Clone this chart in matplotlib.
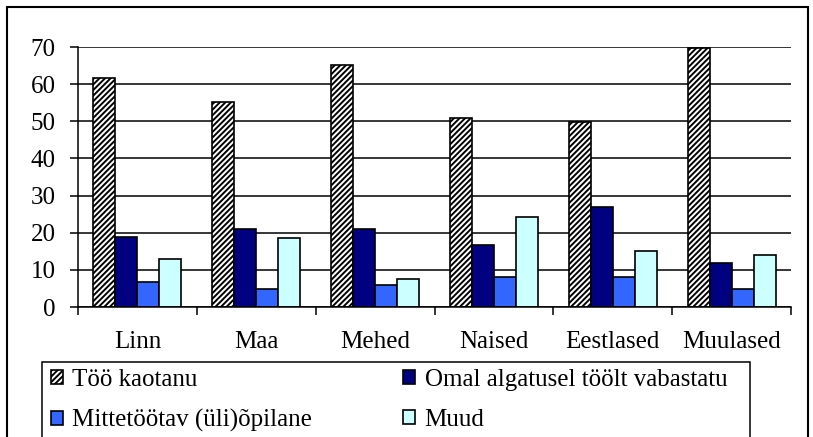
import numpy as np
import matplotlib
matplotlib.use("Agg")
from matplotlib import pyplot as plt
from matplotlib.patches import Rectangle

# andmed
categories = ["Linn", "Maa", "Mehed", "Naised", "Eestlased", "Muulased"]
series_names = ["Töö kaotanu", "Omal algatusel töölt vabastatu",
                "Mittetöötav (üli)õpilane", "Muud"]
too_kaotanu = [61.6, 55.3, 65.2, 50.8, 49.9, 69.6]
omal_algatusel = [18.8, 21.0, 21.0, 16.7, 26.8, 11.8]
mittetootav = [6.7, 4.8, 5.9, 8.0, 8.0, 4.8]
muud = [12.9, 18.6, 7.5, 24.1, 15.1, 13.9]
y_ticks = [0, 10, 20, 30, 40, 50, 60, 70]

plt.rcParams['font.family'] = ['Liberation Serif', 'DejaVu Serif']
plt.rcParams['hatch.linewidth'] = 1.4
plt.rcParams['hatch.color'] = 'black'

fs = 18
fig = plt.figure(figsize=(8.13, 4.37), dpi=100)
ax = fig.add_axes([78 / 813, 1 - 307 / 437, 713 / 813, 260 / 437])

x = np.arange(len(categories))
w = 0.185
data = [too_kaotanu, omal_algatusel, mittetootav, muud]
colors = ['white', '#000080', '#3366FF', '#CCFFFF']
hatches = ['//////', None, None, None]
bars = []
for i, vals in enumerate(data):
    b = ax.bar(x + (i - 1.5) * w, vals, w, color=colors[i], hatch=hatches[i],
               edgecolor='black', linewidth=1.2, label=series_names[i], zorder=3)
    bars.append(b)

ax.set_xlim(-0.5, len(categories) - 0.5)
ax.set_ylim(0, 70)
ax.set_yticks(y_ticks)
ax.yaxis.grid(True, color='black', linewidth=1.1, zorder=0)
ax.set_axisbelow(True)
ax.set_xticks(x)
ax.set_xticklabels(categories)
ax.set_xticks(np.arange(len(categories) + 1) - 0.5, minor=True)
ax.tick_params(axis='x', which='major', length=0, pad=17.5, labelsize=fs)
ax.tick_params(axis='x', which='minor', length=6, width=1.1, direction='out')
ax.tick_params(axis='y', length=6, width=1.1, pad=10, labelsize=fs)
for s in ['top', 'right']:
    ax.spines[s].set_visible(False)
for s in ['left', 'bottom']:
    ax.spines[s].set_linewidth(1.1)
    ax.spines[s].set_zorder(4)

# välimine raam
fig.patches.append(Rectangle((7 / 813, -0.05), 801 / 813, 1 - 7 / 437 + 0.05,
                             transform=fig.transFigure, fill=False,
                             edgecolor='black', linewidth=1.5))
# legendi raam
fig.patches.append(Rectangle((42 / 813, -0.05), 708 / 813, 1 - 362 / 437 + 0.05,
                             transform=fig.transFigure, fill=False,
                             edgecolor='black', linewidth=1.1))

leg_kw = dict(frameon=False, loc='upper left', fontsize=fs, borderpad=0,
              handlelength=0.46, handleheight=0.46, handletextpad=0.4,
              labelspacing=0.72, borderaxespad=0)
fig.legend([bars[0], bars[2]], [series_names[0], series_names[2]],
           bbox_to_anchor=(51 / 813, 1 - 369 / 437), **leg_kw)
fig.legend([bars[1], bars[3]], [series_names[1], series_names[3]],
           bbox_to_anchor=(403 / 813, 1 - 369 / 437), **leg_kw)

fig.savefig("out.png", dpi=100)
